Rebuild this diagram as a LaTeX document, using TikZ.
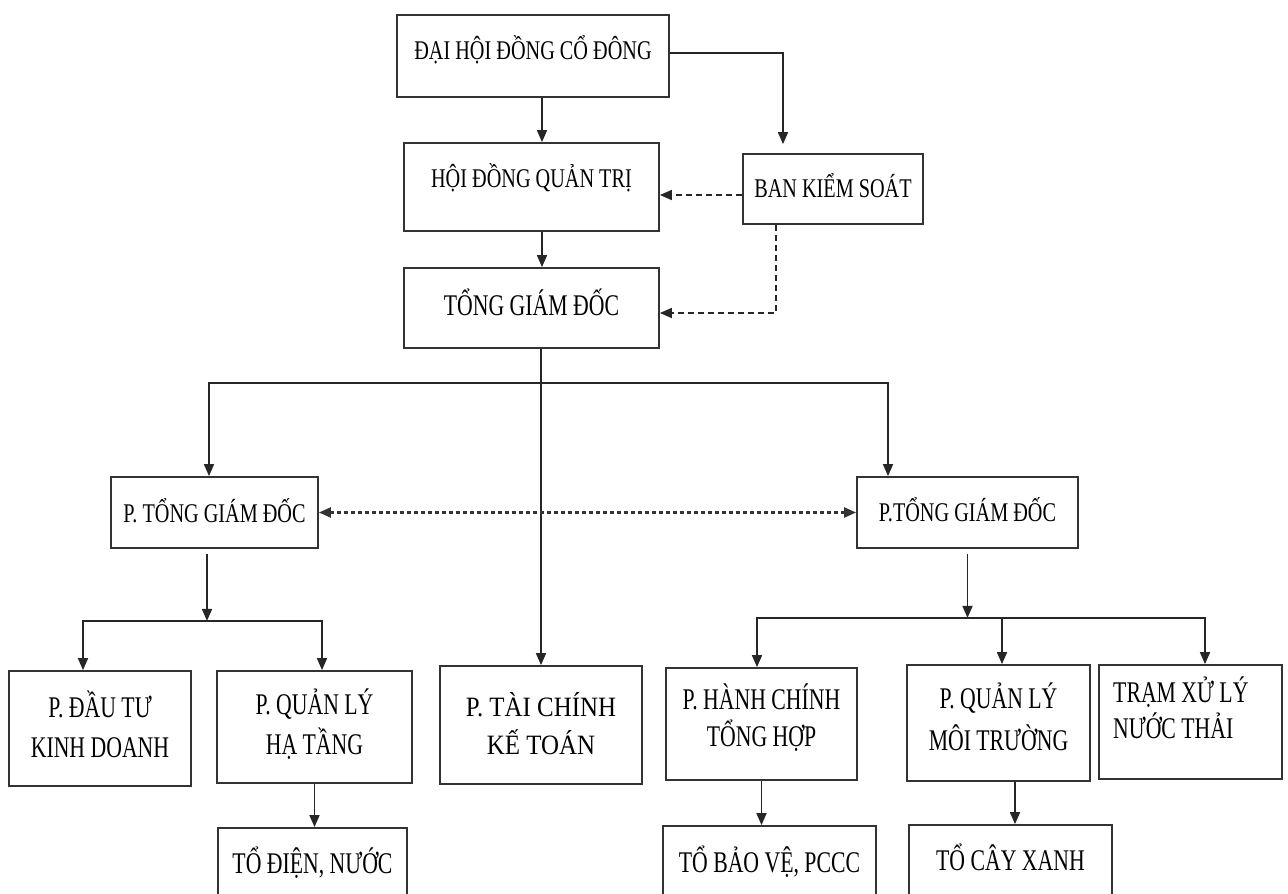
\documentclass[tikz,border=0pt]{standalone}
\usepackage{fontspec}
\setmainfont{Liberation Serif}[FakeStretch=0.72]
\newfontfamily\fA{Liberation Serif}[FakeStretch=0.75]
\newfontfamily\fB{Liberation Serif}[FakeStretch=0.725]
\newfontfamily\fC{Liberation Serif}[FakeStretch=0.89]
\usetikzlibrary{arrows.meta}
\begin{document}
\begin{tikzpicture}[x=1pt,y=-1pt,
  box/.style={draw=black!80,line width=1.8pt,inner sep=0pt,align=center},
  top/.style={font=\fA\fontsize{27}{40}\selectfont},
  bot/.style={font=\fB\fontsize{30}{40}\selectfont},
  arr/.style={-{Triangle[length=12pt,width=10pt]},line width=1.7pt,draw=black!85},
  dsh/.style={arr,dash pattern=on 6pt off 4pt},
  dbl/.style={{Triangle[length=12pt,width=10pt]}-{Triangle[length=12pt,width=10pt]},
    line width=2.2pt,draw=black!80,dash pattern=on 4pt off 3pt}]
\fill[white] (0,0) rectangle (1288,894);
\useasboundingbox (0,0) rectangle (1288,894);

\node[box,top,minimum width=272pt,minimum height=82pt,text height=20pt,text depth=14pt] (dh) at (533,56) {ĐẠI HỘI ĐỒNG CỔ ĐÔNG};
\node[box,top,minimum width=255pt,minimum height=88pt,text height=20pt,text depth=20pt] (hd) at (531.5,187) {HỘI ĐỒNG QUẢN TRỊ};
\node[box,top,minimum width=180pt,minimum height=70pt,text height=20pt,text depth=4pt] (bks) at (833,189) {BAN KIỂM SOÁT};
\node[box,bot,minimum width=255pt,minimum height=80pt,text height=20pt,text depth=6pt] (tgd) at (531.5,308) {TỔNG GIÁM ĐỐC};
\node[box,top,minimum width=207pt,minimum height=71pt,text height=22pt,text depth=3pt] (ptl) at (214.5,512.5) {P. TỔNG GIÁM ĐỐC};
\node[box,top,minimum width=221pt,minimum height=71pt,text height=21pt,text depth=3pt] (ptr) at (967.5,512.5) {P.TỔNG GIÁM ĐỐC};
\node[box,bot,minimum width=182pt,minimum height=115pt,text depth=8pt] (dtkd) at (100,728.5) {P. ĐẦU TƯ\\KINH DOANH};
\node[box,bot,minimum width=195pt,minimum height=112pt,text depth=10pt] (qlht) at (314.5,727) {P. QUẢN LÝ\\HẠ TẦNG};
\node[box,font=\fC\fontsize{28}{38}\selectfont,minimum width=202pt,minimum height=118pt,text depth=4pt] (tckt) at (541,725) {P. TÀI CHÍNH\\KẾ TOÁN};
\node[box,font=\fB\fontsize{30}{37}\selectfont,minimum width=191pt,minimum height=112pt,text depth=17pt] (hcth) at (761.5,724) {P. HÀNH CHÍNH\\TỔNG HỢP};
\node[box,font=\fB\fontsize{30}{42}\selectfont,minimum width=183pt,minimum height=116pt,text depth=13pt] (qlmt) at (998.5,723) {P. QUẢN LÝ\\MÔI TRƯỜNG};
\node[box,minimum width=183pt,minimum height=114pt] (txlnt) at (1190.5,722) {};
\node[anchor=north west,align=left,inner sep=0pt,font=\fB\fontsize{30}{36}\selectfont] (txlntt) at (1113,677) {TRẠM XỬ LÝ\\NƯỚC THẢI};
\node[box,bot,minimum width=189pt,minimum height=74pt,text height=20pt,text depth=4pt] (tdn) at (312.5,865) {TỔ ĐIỆN, NƯỚC};
\node[box,bot,minimum width=213pt,minimum height=74pt,text height=22pt,text depth=4pt] (tbv) at (769.5,863) {TỔ BẢO VỆ, PCCC};
\node[box,bot,minimum width=203pt,minimum height=74pt,text height=20pt,text depth=4pt] (tcx) at (1010.5,862) {TỔ CÂY XANH};

% top connectors
\coordinate (a1) at ([xshift=9pt]dh.south);
\draw[arr] (a1) -- (a1 |- hd.north);
\coordinate (a2) at ([yshift=3pt]dh.east);
\coordinate (a3) at ([xshift=-50pt,yshift=9pt]bks.north);
\draw[arr] (a2) -| (a3);
\coordinate (a4) at ([yshift=-6pt]bks.west);
\draw[dsh] (a4) -- (a4 -| hd.east);
\coordinate (a5) at ([xshift=10.5pt]hd.south);
\draw[arr] (a5) -- (a5 |- tgd.north);
\coordinate (a6) at ([xshift=-57pt]bks.south);
\coordinate (a7) at ([yshift=-5pt]tgd.east);
\draw[dsh] (a6) |- (a7);

% TGD trunk
\draw[arr] (tckt.north |- tgd.south) -- (tckt.north);
\coordinate (hb) at (543,383);
\draw[arr] (hb) -| ([xshift=-5.5pt]ptl.north);
\draw[arr] (hb) -| ([xshift=-79.5pt]ptr.north);
\draw[dbl] (ptl.east) -- (ptr.west);

% left branch
\coordinate (b1) at ([xshift=-7.5pt,yshift=-5pt]ptl.south);
\coordinate (lb) at ([xshift=-7.5pt,yshift=-72pt]ptl.south);
\draw[arr] (b1) -- (lb);
\draw[arr] (lb) -| ([xshift=-17pt]dtkd.north);
\draw[arr] (lb) -| ([xshift=7.5pt]qlht.north);
\draw[arr] (qlht.south) -- (qlht.south |- tdn.north);

% right branch
\coordinate (b2) at ([yshift=-5pt]ptr.south);
\coordinate (rb) at ([yshift=-69pt]ptr.south);
\draw[arr] (b2) -- (rb);
\draw[arr] (rb) -| ([xshift=-4.5pt]hcth.north);
\draw[arr] (rb) -| ([xshift=3.5pt]qlmt.north);
\draw[arr] (rb) -| ([xshift=14.5pt]txlnt.north);
\draw[arr] (hcth.south) -- (hcth.south |- tbv.north);
\coordinate (c9) at ([xshift=16.5pt]qlmt.south);
\draw[arr] (c9) -- (c9 |- tcx.north);
\end{tikzpicture}
\end{document}
